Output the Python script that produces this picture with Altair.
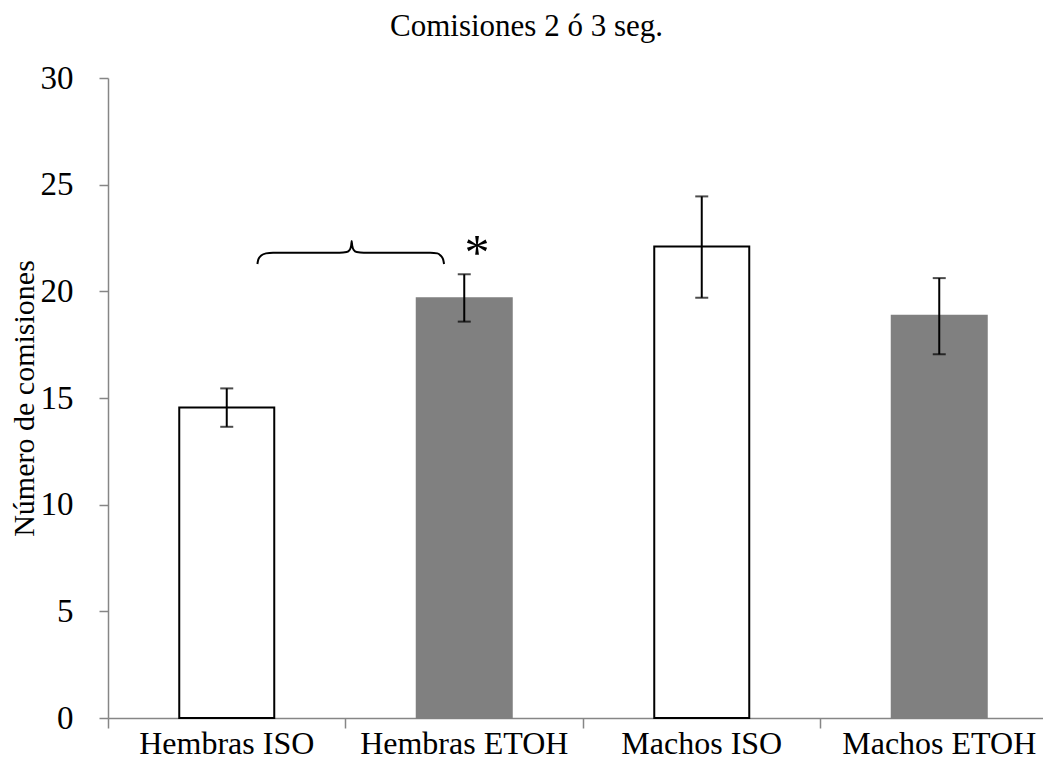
import altair as alt
import pandas as pd

categories = ["Hembras ISO", "Hembras ETOH", "Machos ISO", "Machos ETOH"]
treatment = ["ISO", "ETOH", "ISO", "ETOH"]
means = [14.55, 19.68, 22.1, 18.85]
err_low = [13.65, 18.58, 19.7, 17.05]
err_high = [15.45, 20.8, 24.45, 20.62]

# brace annotation (x in category-step units, y in data units)
brace_x = [0.629, 0.633, 0.645, 0.665, 0.695, 0.975, 1.005, 1.018, 1.024, 1.026,
           1.028, 1.034, 1.047, 1.077, 1.357, 1.387, 1.400, 1.411, 1.415]
brace_y = [21.28, 21.50, 21.68, 21.78, 21.81, 21.81, 21.84, 21.95, 22.15, 22.36,
           22.15, 21.95, 21.84, 21.81, 21.81, 21.78, 21.68, 21.50, 21.28]
star_x = [1.554]
star_y = [22.17]
star_text = ["*"]

FONT = "Liberation Serif"
GRAY = "#868686"

df = pd.DataFrame({"cat": categories, "trt": treatment, "mean": means,
                   "lo": err_low, "hi": err_high})
brace_df = pd.DataFrame({"bx": brace_x, "by": brace_y, "i": list(range(len(brace_x)))})
star_df = pd.DataFrame({"sx": star_x, "sy": star_y, "t": star_text})

XRANGE = [0, 950]
xscale = alt.Scale(paddingInner=0, paddingOuter=0, range=XRANGE)
yscale = alt.Scale(domain=[0, 30], nice=False)

x_axis = alt.Axis(title=None, labelAngle=0, bandPosition=0, tickSize=10,
                  labelPadding=0, labelFontSize=32, labelColor="black", labelLimit=0,
                  domainColor=GRAY, tickColor=GRAY, domainWidth=1.5, tickWidth=1.5,
                  labelFont=FONT)
y_axis = alt.Axis(title="Número de comisiones", values=[0, 5, 10, 15, 20, 25, 30],
                  tickSize=9, labelPadding=26, labelFontSize=33, labelColor="black",
                  titleFontSize=30, titleFontWeight="normal", titleColor="black",
                  titlePadding=1, domainColor=GRAY, tickColor=GRAY, domainWidth=1.5,
                  tickWidth=1.5, grid=False, labelFont=FONT, titleFont=FONT)

bars = alt.Chart(df).mark_bar(width=alt.RelativeBandSize(0.4), strokeWidth=2).encode(
    x=alt.X("cat:N", sort=categories, scale=xscale, axis=x_axis),
    y=alt.Y("mean:Q", scale=yscale, axis=y_axis),
    fill=alt.Fill("trt:N", scale=alt.Scale(domain=["ISO", "ETOH"], range=["#ffffff", "#808080"]), legend=None),
    stroke=alt.Stroke("trt:N", scale=alt.Scale(domain=["ISO", "ETOH"], range=["#000000", "#808080"]), legend=None),
)

rules = alt.Chart(df).mark_rule(color="black", strokeWidth=2).encode(
    x=alt.X("cat:N", sort=categories, scale=xscale, axis=x_axis),
    y=alt.Y("lo:Q", scale=yscale, axis=y_axis),
    y2="hi:Q",
)
cap_lo = alt.Chart(df).mark_tick(color="black", orient="horizontal", size=13, thickness=2).encode(
    x=alt.X("cat:N", sort=categories, scale=xscale, axis=x_axis),
    y=alt.Y("lo:Q", scale=yscale, axis=y_axis),
)
cap_hi = alt.Chart(df).mark_tick(color="black", orient="horizontal", size=13, thickness=2).encode(
    x=alt.X("cat:N", sort=categories, scale=xscale, axis=x_axis),
    y=alt.Y("hi:Q", scale=yscale, axis=y_axis),
)

main = alt.layer(bars, rules, cap_lo, cap_hi)

qx = alt.Scale(domain=[0, 4], nice=False, zero=False, range=XRANGE)
brace = alt.Chart(brace_df).mark_line(color="black", strokeWidth=2, interpolate="monotone").encode(
    x=alt.X("bx:Q", scale=qx, axis=None),
    y=alt.Y("by:Q", scale=yscale, axis=y_axis),
    order="i:Q",
)
star = alt.Chart(star_df).mark_text(font=FONT, fontSize=50, baseline="middle", align="center", dy=9).encode(
    x=alt.X("sx:Q", scale=qx, axis=None),
    y=alt.Y("sy:Q", scale=yscale, axis=y_axis),
    text="t:N",
)

chart = alt.layer(main, brace, star).resolve_scale(x="independent").properties(
    width=927, height=640,
    autosize=alt.AutoSizeParams(type="none"),
    padding={"top": 70, "left": 100, "right": 8, "bottom": 42},
    title=alt.TitleParams("Comisiones 2 ó 3 seg.", font=FONT, fontSize=31,
                          fontWeight="normal", color="black", anchor="middle",
                          offset=19, frame="group", dx=-45),
).configure(font=FONT).configure_view(stroke=None)

chart.save("out.html", embed_options={"renderer": "svg", "actions": False})
